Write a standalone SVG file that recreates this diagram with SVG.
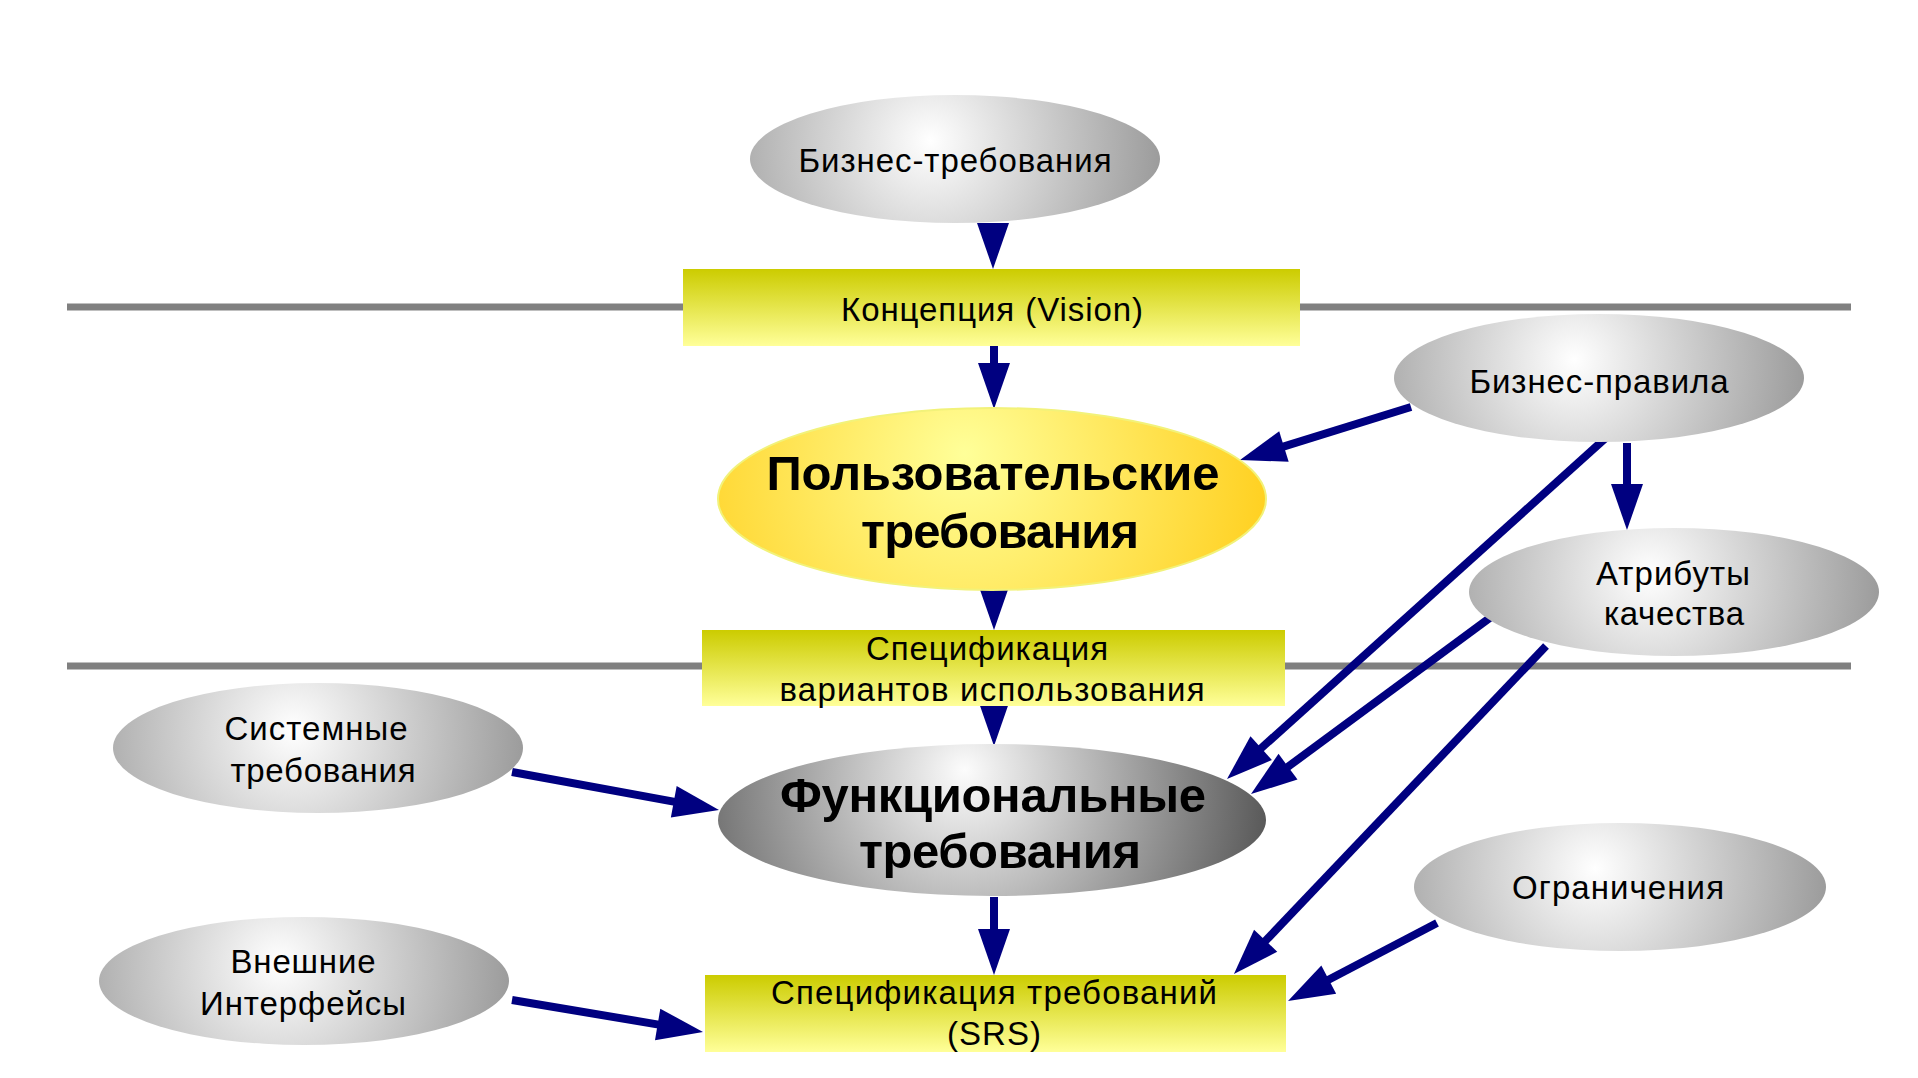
<svg xmlns="http://www.w3.org/2000/svg" width="1918" height="1078" viewBox="0 0 1918 1078">
<defs>
<radialGradient id="gGray" cx="0.44" cy="0.42" r="0.56" fx="0.44" fy="0.4" gradientTransform="translate(0.44,0.42) scale(1,3.2) translate(-0.44,-0.42)">
<stop offset="0" stop-color="#FFFFFF"/>
<stop offset="1" stop-color="#9C9C9C"/>
</radialGradient>
<radialGradient id="gDark" cx="0.45" cy="0.35" r="0.55" fx="0.45" fy="0.3" gradientTransform="translate(0.45,0.35) scale(1,3.6) translate(-0.45,-0.35)">
<stop offset="0" stop-color="#FCFCFC"/>
<stop offset="1" stop-color="#5A5A5A"/>
</radialGradient>
<radialGradient id="gYellow" cx="0.45" cy="0.4" r="0.56" fx="0.45" fy="0.35" gradientTransform="translate(0.45,0.4) scale(1,3) translate(-0.45,-0.4)">
<stop offset="0" stop-color="#FFFF99"/>
<stop offset="1" stop-color="#FFD020"/>
</radialGradient>
<linearGradient id="gRect" x1="0" y1="0" x2="0" y2="1">
<stop offset="0" stop-color="#CCCC00"/>
<stop offset="1" stop-color="#FFFF99"/>
</linearGradient>
<marker id="ah" markerUnits="userSpaceOnUse" markerWidth="46" markerHeight="32" refX="4" refY="16" orient="auto" overflow="visible">
<path d="M0,0 L46,16 L0,32 Z" fill="#000080"/>
</marker>
</defs>
<style>
.sep{stroke:#808080;stroke-width:7}
.con{stroke:#000080;stroke-width:8;fill:none;marker-end:url(#ah)}
.gray{fill:url(#gGray)}
.rect{fill:url(#gRect)}
.t{font-family:"Liberation Sans",Arial,sans-serif;font-size:33px;fill:#000;text-anchor:middle}
.b{font-family:"Liberation Sans",Arial,sans-serif;font-size:49px;font-weight:bold;fill:#000;text-anchor:middle}
</style>
<rect width="1918" height="1078" fill="#FFFFFF"/>
<g id="separators">
<line class="sep" x1="67" y1="307" x2="1851" y2="307"/>
<line class="sep" x1="67" y1="666" x2="1851" y2="666"/>
</g>
<g id="connectors">
<line class="con" x1="993" y1="225" x2="993" y2="227"/>
<line class="con" x1="994" y1="346" x2="994" y2="367"/>
<line class="con" x1="994" y1="587" x2="994" y2="588"/>
<line class="con" x1="994" y1="703" x2="994" y2="704"/>
<line class="con" x1="994" y1="897" x2="994" y2="933"/>
<line class="con" x1="512" y1="772" x2="677.7" y2="802.4"/>
<line class="con" x1="512" y1="1000" x2="661.6" y2="1025.1"/>
<line class="con" x1="1411" y1="407" x2="1280.1" y2="447.6"/>
<line class="con" x1="1627" y1="443" x2="1627" y2="488"/>
<line class="con" x1="1609" y1="435" x2="1258.2" y2="750.9"/>
<line class="con" x1="1491" y1="617" x2="1284.8" y2="769.1"/>
<line class="con" x1="1546" y1="646" x2="1262.9" y2="943.6"/>
<line class="con" x1="1437" y1="923" x2="1325.2" y2="981.5"/>
</g>
<g id="business-req">
<ellipse class="gray" cx="955" cy="159" rx="205" ry="64"/>
<text class="t" x="955" y="172" textLength="313" lengthAdjust="spacing">Бизнес-требования</text>
</g>
<g id="vision">
<rect class="rect" x="683" y="269" width="617" height="77"/>
<text class="t" x="992" y="321" textLength="302" lengthAdjust="spacing">Концепция (Vision)</text>
</g>
<g id="user-req">
<ellipse cx="992" cy="499" rx="274" ry="91" fill="url(#gYellow)" stroke="#F2F27A" stroke-width="2"/>
<text class="b" x="993" y="490" textLength="453" lengthAdjust="spacing">Пользовательские</text>
<text class="b" x="1000" y="548" textLength="278" lengthAdjust="spacing">требования</text>
</g>
<g id="use-case-spec">
<rect class="rect" x="702" y="630" width="583" height="76"/>
<text class="t" x="987" y="660" textLength="242" lengthAdjust="spacing">Спецификация</text>
<text class="t" x="992" y="701" textLength="425" lengthAdjust="spacing">вариантов использования</text>
</g>
<g id="functional-req">
<ellipse cx="992" cy="820" rx="274" ry="76" fill="url(#gDark)"/>
<text class="b" x="993" y="812" textLength="426" lengthAdjust="spacing">Функциональные</text>
<text class="b" x="1000" y="868" textLength="282" lengthAdjust="spacing">требования</text>
</g>
<g id="srs">
<rect class="rect" x="705" y="975" width="581" height="77"/>
<text class="t" x="994" y="1004" textLength="446" lengthAdjust="spacing">Спецификация требований</text>
<text class="t" x="994" y="1045" textLength="94" lengthAdjust="spacing">(SRS)</text>
</g>
<g id="system-req">
<ellipse class="gray" cx="318" cy="748" rx="205" ry="65"/>
<text class="t" x="316" y="740" textLength="183" lengthAdjust="spacing">Системные</text>
<text class="t" x="323" y="782" textLength="185" lengthAdjust="spacing">требования</text>
</g>
<g id="external-interfaces">
<ellipse class="gray" cx="304" cy="981" rx="205" ry="64"/>
<text class="t" x="303" y="973" textLength="145" lengthAdjust="spacing">Внешние</text>
<text class="t" x="303" y="1015" textLength="206" lengthAdjust="spacing">Интерфейсы</text>
</g>
<g id="business-rules">
<ellipse class="gray" cx="1599" cy="378" rx="205" ry="64"/>
<text class="t" x="1599" y="393" textLength="259" lengthAdjust="spacing">Бизнес-правила</text>
</g>
<g id="quality-attributes">
<ellipse class="gray" cx="1674" cy="592" rx="205" ry="64"/>
<text class="t" x="1673" y="585" textLength="154" lengthAdjust="spacing">Атрибуты</text>
<text class="t" x="1674" y="625" textLength="140" lengthAdjust="spacing">качества</text>
</g>
<g id="constraints">
<ellipse class="gray" cx="1620" cy="887" rx="206" ry="64"/>
<text class="t" x="1618" y="899" textLength="212" lengthAdjust="spacing">Ограничения</text>
</g>
</svg>
